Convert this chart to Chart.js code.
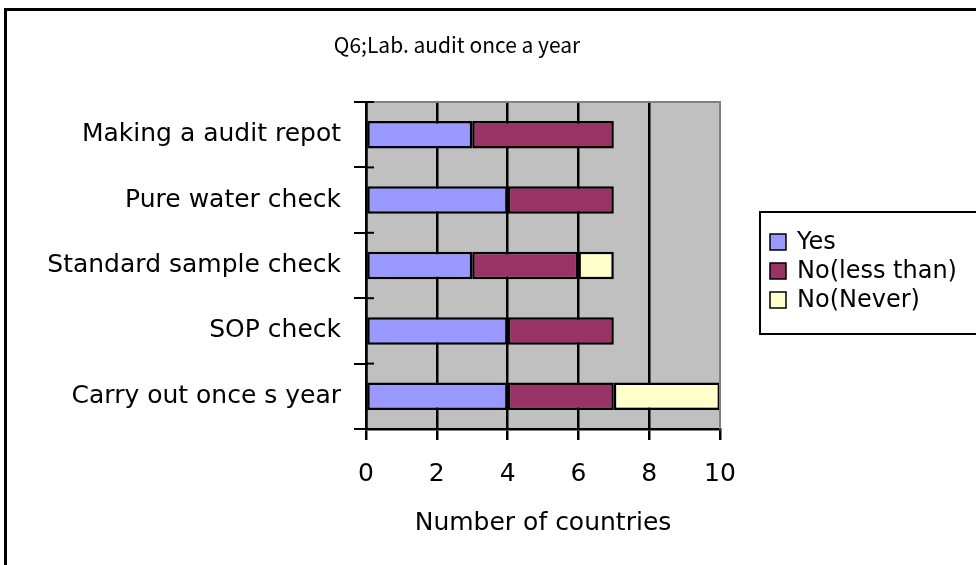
<!DOCTYPE html>
<html>
<head>
<meta charset="utf-8">
<script src="https://cdn.jsdelivr.net/npm/chart.js@4.4.0/dist/chart.umd.min.js"></script>
<style>
html, body { margin:0; padding:0; background:#fff; overflow:hidden; }
#wrap { position:relative; width:976px; height:565px; }
#frame { position:absolute; left:4px; top:8px; width:1000px; height:600px; border:3px solid #000; pointer-events:none; }
canvas { position:absolute; left:0; top:0; }
</style>
</head>
<body>
<div id="wrap"><canvas id="audit" width="976" height="565"></canvas><div id="frame"></div></div>
<script>
var categories = ['Making a audit repot', 'Pure water check', 'Standard sample check', 'SOP check', 'Carry out once s year'];
var yesVals   = [3, 4, 3, 4, 4];
var lessVals  = [4, 3, 3, 3, 3];
var neverVals = [0, 0, 1, 0, 3];
var seriesNames = ['Yes', 'No(less than)', 'No(Never)'];
var seriesColors = ['#9999ff', '#993366', '#ffffcc'];
var xTicks = [0, 2, 4, 6, 8, 10];
var titleText = 'Q6;Lab. audit once a year';
var axisTitle = 'Number of countries';

Chart.defaults.font.family = '"DejaVu Sans", sans-serif';
Chart.defaults.color = '#000';

// gray plot area, borders, legend box and title
var decor = {
  id: 'decor',
  beforeDraw: function(chart) {
    var a = chart.chartArea, c = chart.ctx;
    c.save();
    c.fillStyle = '#c0c0c0';
    c.fillRect(a.left, a.top, a.right - a.left, a.bottom - a.top);
    c.restore();
  },
  afterDraw: function(chart) {
    var a = chart.chartArea, c = chart.ctx, ys = chart.scales.y;
    c.save();
    c.strokeStyle = '#808080';
    c.lineWidth = 2;
    c.beginPath();
    c.moveTo(a.left, a.top);
    c.lineTo(a.right, a.top);
    c.lineTo(a.right, a.bottom);
    c.stroke();

    // little tick stubs crossing into the plot
    c.strokeStyle = '#000';
    for (var i = 0; i <= categories.length; i++) {
      var py = ys.getPixelForValue(i - 0.5);
      c.beginPath();
      c.moveTo(a.left, py);
      c.lineTo(a.left + 8, py);
      c.stroke();
    }

    c.fillStyle = '#000';
    c.font = '21px "Noto Sans CJK JP"';
    c.textAlign = 'center';
    c.textBaseline = 'middle';
    c.fillText(titleText, 457, 45);

    // legend
    c.lineWidth = 2;
    c.strokeRect(760, 212, 260, 122);
    c.font = '24px "DejaVu Sans"';
    c.textAlign = 'left';
    chart.data.datasets.forEach(function(ds, k) {
      var cy = 242 + k * 29;
      c.fillStyle = ds.backgroundColor;
      c.fillRect(770, cy - 8, 16, 16);
      c.lineWidth = 1.5;
      c.strokeRect(770, cy - 8, 16, 16);
      c.fillStyle = '#000';
      c.fillText(ds.label, 797, cy + 1);
    });
    c.restore();
  }
};

var datasets = [yesVals, lessVals, neverVals].map(function(vals, i) {
  return {
    label: seriesNames[i],
    data: vals,
    backgroundColor: seriesColors[i],
    borderColor: '#000',
    borderWidth: 2.5,
    borderSkipped: false,
    barPercentage: 0.42,
    categoryPercentage: 1
  };
});

new Chart(document.getElementById('audit').getContext('2d'), {
  type: 'bar',
  data: { labels: categories, datasets: datasets },
  plugins: [decor],
  options: {
    indexAxis: 'y',
    responsive: false,
    animation: false,
    layout: { padding: { top: 102, right: 256, bottom: 0, left: 0 } },
    plugins: {
      legend: { display: false },
      title: { display: false },
      tooltip: { enabled: false }
    },
    scales: {
      x: {
        stacked: true,
        min: 0,
        max: 10,
        afterBuildTicks: function(s) { s.ticks = xTicks.map(function(v) { return { value: v }; }); },
        afterFit: function(s) { s.height = 136; },
        ticks: { font: { size: 25 }, padding: 19, maxRotation: 0 },
        grid: {
          color: function(ctx) { return ctx.tick && ctx.tick.value === 10 ? 'rgba(0,0,0,0)' : '#000'; },
          tickColor: '#000',
          lineWidth: 2.5,
          tickLength: 11
        },
        border: { color: '#000', width: 2.5 },
        title: { display: true, text: axisTitle, font: { size: 25 }, padding: { top: 0, bottom: 27 } }
      },
      y: {
        stacked: true,
        afterFit: function(s) { s.width = 366; },
        ticks: { font: { size: 25 }, padding: 13 },
        grid: { offset: true, drawOnChartArea: false, color: '#000', lineWidth: 2, tickLength: 12 },
        border: { color: '#000', width: 2.5 }
      }
    }
  }
});
</script>
</body>
</html>
